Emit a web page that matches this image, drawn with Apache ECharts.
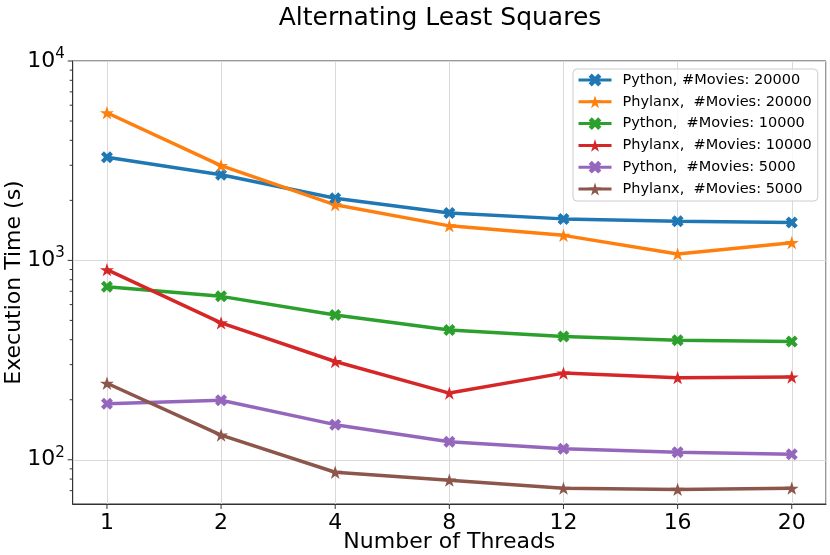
<!DOCTYPE html>
<html>
<head>
<meta charset="utf-8">
<script src="https://cdn.jsdelivr.net/npm/echarts@6/dist/echarts.min.js"></script>
<style>
  html, body { margin: 0; padding: 0; background: #fff; }
  #chart { width: 830px; height: 555px; }
</style>
</head>
<body>
<div id="chart"></div>
<script>
// thread counts on the x axis
var threads = ['1', '2', '4', '8', '12', '16', '20'];

// execution time (s)
var pyth20000 = [3290, 2690, 2050, 1730, 1615, 1570, 1550];
var phyl20000 = [5500, 2990, 1900, 1490, 1335, 1077, 1227];
var pyth10000 = [738, 660, 532, 447, 415, 398, 392];
var phyl10000 = [898, 486, 311, 216, 272, 258, 260];
var pyth5000 = [191, 199, 150, 123, 113.5, 109, 106.5];
var phyl5000 = [242, 133, 86.6, 79, 72, 71, 72];

var seriesNames = [
    'Python, #Movies: 20000',
    'Phylanx,  #Movies: 20000',
    'Python,  #Movies: 10000',
    'Phylanx,  #Movies: 10000',
    'Python,  #Movies: 5000',
    'Phylanx,  #Movies: 5000'
];

// y ticks (log axis)
var yMajor = [100, 1000, 10000];
var yMinor = [70, 80, 90, 200, 300, 400, 500, 600, 700, 800, 900,
              2000, 3000, 4000, 5000, 6000, 7000, 8000, 9000];

var colors = ['#1f77b4', '#ff7f0e', '#2ca02c', '#d62728', '#9467bd', '#8c564b'];
var X_MIN = -0.3, X_MAX = 6.3, Y_MIN = 60, Y_MAX = 10000;
var FONT = 'DejaVu Sans';

var xMarker = 'path://M6 0 L8 2 L6 4 L8 6 L6 8 L4 6 L2 8 L0 6 L2 4 L0 2 L2 0 L4 2 Z';
var starMarker = 'path://M50 0 L61.23 34.55 L97.55 34.55 L68.17 55.9 L79.39 90.45 L50 69.1 L20.61 90.45 L31.83 55.9 L2.45 34.55 L38.77 34.55 Z';

var myChart = echarts.init(document.getElementById('chart'), null, { renderer: 'canvas' });

function toPairs(arr) {
    return arr.map(function (v, i) { return [i, v]; });
}

function lineSeries(name, values, color, isStar) {
    return {
        name: name,
        type: 'line',
        data: toPairs(values),
        symbol: isStar ? starMarker : xMarker,
        symbolSize: isStar ? 14 : 12,
        symbolKeepAspect: true,
        showAllSymbol: true,
        lineStyle: { width: 3.5, color: color },
        itemStyle: { color: color },
        emphasis: { disabled: true },
        z: 3
    };
}

// tick marks drawn through the axes' own scales
function tickSeries(data, kind) {
    return {
        type: 'custom',
        silent: true,
        clip: false,
        z: 10,
        data: data,
        renderItem: function (params, api) {
            var p, shape;
            if (kind === 'x') {
                p = api.coord([api.value(0), Y_MIN]);
                shape = { x1: p[0], y1: p[1], x2: p[0], y2: p[1] + 5 };
            } else {
                p = api.coord([X_MIN, api.value(1)]);
                var len = kind === 'major' ? 5 : 3;
                shape = { x1: p[0] - len, y1: p[1], x2: p[0], y2: p[1] };
            }
            return { type: 'line', shape: shape, style: { stroke: '#333', lineWidth: 1 } };
        }
    };
}

var option = {
    backgroundColor: '#fff',
    animation: false,
    title: {
        text: 'Alternating Least Squares',
        left: 435,
        textAlign: 'center',
        top: 1,
        textStyle: { fontFamily: FONT, fontSize: 25, fontWeight: 'normal', color: '#000' }
    },
    legend: {
        orient: 'vertical',
        left: 573,
        top: 69,
        data: seriesNames,
        selectedMode: false,
        itemWidth: 33,
        itemHeight: 16,
        itemGap: 5.8,
        padding: [3, 6, 4, 4],
        lineStyle: { width: 3 },
        backgroundColor: 'rgba(255,255,255,0.8)',
        borderColor: '#cccccc',
        borderWidth: 1,
        borderRadius: 4,
        textStyle: { fontFamily: FONT, fontSize: 14.5, lineHeight: 16, color: '#000', padding: [0, 0, 0, 6] }
    },
    grid: {
        left: 72.7,
        right: 4,
        top: 61,
        bottom: 51,
        containLabel: false,
        outerBoundsMode: 'none',
        show: true,
        borderColor: '#333',
        borderWidth: 1
    },
    xAxis: {
        type: 'value',
        min: X_MIN,
        max: X_MAX,
        name: 'Number of Threads',
        nameLocation: 'middle',
        nameGap: 27,
        nameMoveOverlap: false,
        nameTextStyle: { fontFamily: FONT, fontSize: 22, color: '#000' },
        axisLine: { show: true, onZero: false, lineStyle: { color: '#333', width: 1 } },
        axisTick: { show: false },
        axisLabel: {
            margin: 8,
            fontFamily: FONT,
            fontSize: 22,
            color: '#000',
            showMinLabel: false,
            showMaxLabel: false,
            formatter: function (v) {
                var i = Math.round(v);
                return Math.abs(v - i) < 1e-6 && threads[i] !== undefined ? threads[i] : '';
            }
        },
        splitLine: { show: true, lineStyle: { color: '#d9d9d9', width: 1 } }
    },
    yAxis: {
        type: 'log',
        logBase: 10,
        min: Y_MIN,
        max: Y_MAX,
        name: 'Execution Time (s)',
        nameLocation: 'middle',
        nameGap: 47,
        nameMoveOverlap: false,
        nameTextStyle: { fontFamily: FONT, fontSize: 22, color: '#000' },
        axisLine: { show: true, onZero: false, lineStyle: { color: '#333', width: 1 } },
        axisTick: { show: false },
        axisLabel: {
            margin: 8,
            fontFamily: FONT,
            fontSize: 22,
            color: '#000',
            formatter: function (v) {
                var e = Math.log10(v);
                if (Math.abs(e - Math.round(e)) > 1e-6) return '';
                return '10{sup|' + Math.round(e) + '}';
            },
            rich: {
                sup: { fontFamily: FONT, fontSize: 15, color: '#000', padding: [0, 0, 14, 0] }
            }
        },
        splitLine: { show: true, lineStyle: { color: '#d9d9d9', width: 1 } }
    },
    series: [
        lineSeries(seriesNames[0], pyth20000, colors[0], false),
        lineSeries(seriesNames[1], phyl20000, colors[1], true),
        lineSeries(seriesNames[2], pyth10000, colors[2], false),
        lineSeries(seriesNames[3], phyl10000, colors[3], true),
        lineSeries(seriesNames[4], pyth5000, colors[4], false),
        lineSeries(seriesNames[5], phyl5000, colors[5], true),
        tickSeries(threads.map(function (t, i) { return [i, Y_MIN]; }), 'x'),
        tickSeries(yMajor.map(function (v) { return [X_MIN, v]; }), 'major'),
        tickSeries(yMinor.map(function (v) { return [X_MIN, v]; }), 'minor')
    ]
};

myChart.setOption(option);
</script>
</body>
</html>
